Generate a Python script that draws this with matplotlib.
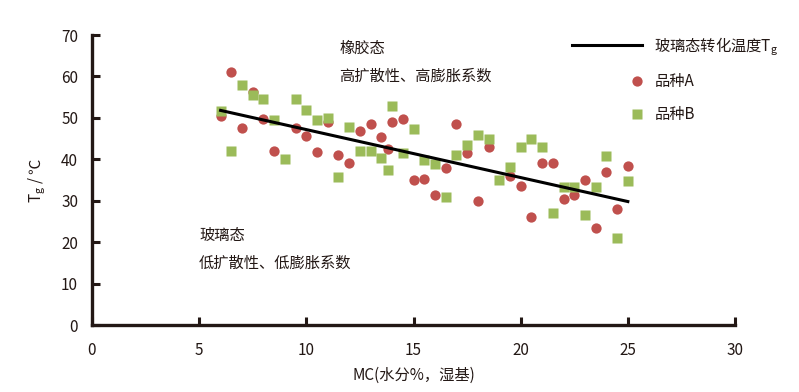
import matplotlib
matplotlib.use("Agg")
import matplotlib.pyplot as plt
from matplotlib.legend_handler import HandlerLine2D
import numpy as np

plt.rcParams['font.family'] = ['Noto Sans CJK SC', 'DejaVu Sans']
plt.rcParams['mathtext.fontset'] = 'custom'
plt.rcParams['mathtext.rm'] = 'Noto Sans CJK SC'

# ---- data ----
a_x = [6, 6.5, 7, 7.5, 8, 8.5, 9.5, 10, 10.5, 11, 11.5, 12, 12.5, 13, 13.5, 13.8, 14, 14.5,
       15, 15.5, 16, 16.5, 17, 17.5, 18, 18.5, 19.5, 20, 20.5, 21, 21.5, 22, 22.5, 23, 23.5,
       24, 24.5, 25]
a_y = [50.5, 61, 47.5, 56.3, 49.8, 42, 47.5, 45.7, 41.8, 48.9, 41, 39, 46.8, 48.5, 45.5, 42.6,
       49.1, 49.7, 35, 35.3, 31.3, 38, 48.5, 41.6, 30, 43, 36, 33.6, 26, 39, 39, 30.5, 31.3,
       35, 23.5, 37, 28.1, 38.5]
b_x = [6, 6.5, 7, 7.5, 8, 8.5, 9, 9.5, 10, 10.5, 11, 11.5, 12, 12.5, 13, 13.5, 13.8, 14, 14.5,
       15, 15.5, 16, 16.5, 17, 17.5, 18, 18.5, 19, 19.5, 20, 20.5, 21, 21.5, 22, 22.5, 23, 23.5,
       24, 24.5, 25]
b_y = [51.6, 42, 57.9, 55.6, 54.5, 49.5, 40, 54.5, 51.9, 49.5, 49.9, 35.7, 47.9, 42, 42, 40.4,
       37.4, 52.9, 41.4, 47.4, 39.8, 38.8, 30.8, 41, 43.4, 45.8, 44.8, 35, 38.1, 42.9, 44.8,
       42.9, 27, 33.4, 33.4, 26.6, 33.2, 40.8, 21.1, 34.8]
tg_x = [6, 25]
tg_y = [51.8, 29.8]

x_ticks = [0, 5, 10, 15, 20, 25, 30]
y_ticks = [0, 10, 20, 30, 40, 50, 60, 70]

red = '#C0504D'
green = '#9BBB59'
ink = '#231815'


class RightMarkerHandler(HandlerLine2D):
    """Legend handler placing the single marker near the right end of the handle box."""
    def get_xdata(self, legend, xdescent, ydescent, width, height, fontsize):
        xm = -xdescent + width * 0.93
        xdata = np.array([xm - 1.0, xm + 1.0])
        return xdata, np.array([xm])


fig = plt.figure(figsize=(7.99, 3.92), dpi=100)
ax = fig.add_axes([92 / 799, 1 - 325 / 392, (735 - 92) / 799, (325 - 35) / 392])

line, = ax.plot(tg_x, tg_y, color='black', lw=2.2, zorder=3,
                label='玻璃态转化温度T$_\\mathregular{g}$')
sa, = ax.plot(a_x, a_y, 'o', ms=7.4, color=red, mec='none', zorder=2, label='品种A')
sb, = ax.plot(b_x, b_y, 's', ms=7.8, color=green, mec='none', zorder=2.5, label='品种B')

ax.set_xlim(0, 30)
ax.set_ylim(0, 70)
ax.set_xticks(x_ticks)
ax.set_yticks(y_ticks)
for s in ['top', 'right']:
    ax.spines[s].set_visible(False)
for s in ['left', 'bottom']:
    ax.spines[s].set_linewidth(2.4)
    ax.spines[s].set_color(ink)
ax.tick_params(direction='in', length=6, width=2.2, color=ink, labelsize=11,
               labelcolor=ink, pad=10)
ax.tick_params(axis='x', pad=12)

ax.set_xlabel('MC(水分%，湿基)', fontsize=11, color=ink, labelpad=6)
ax.set_ylabel('T$_\\mathregular{g}$ / ℃', fontsize=11, color=ink, labelpad=10)

ax.text(11.55, 66.8, '橡胶态', fontsize=11, va='center', ha='left', color=ink)
ax.text(11.55, 60.1, '高扩散性、高膨胀系数', fontsize=11, va='center', ha='left', color=ink)
ax.text(5.0, 21.5, '玻璃态', fontsize=11, va='center', ha='left', color=ink)
ax.text(5.0, 15.0, '低扩散性、低膨胀系数', fontsize=11, va='center', ha='left', color=ink)

leg = fig.legend(handles=[line, sa, sb], loc='upper left', bbox_to_anchor=(572 / 799, 1 - 35 / 392),
                 frameon=False, fontsize=11, handlelength=4.6, handletextpad=0.8,
                 labelspacing=1.05, borderpad=0, borderaxespad=0, numpoints=1,
                 handler_map={sa: RightMarkerHandler(), sb: RightMarkerHandler()})
for t in leg.get_texts():
    t.set_color(ink)

fig.savefig('out.png', dpi=100)
